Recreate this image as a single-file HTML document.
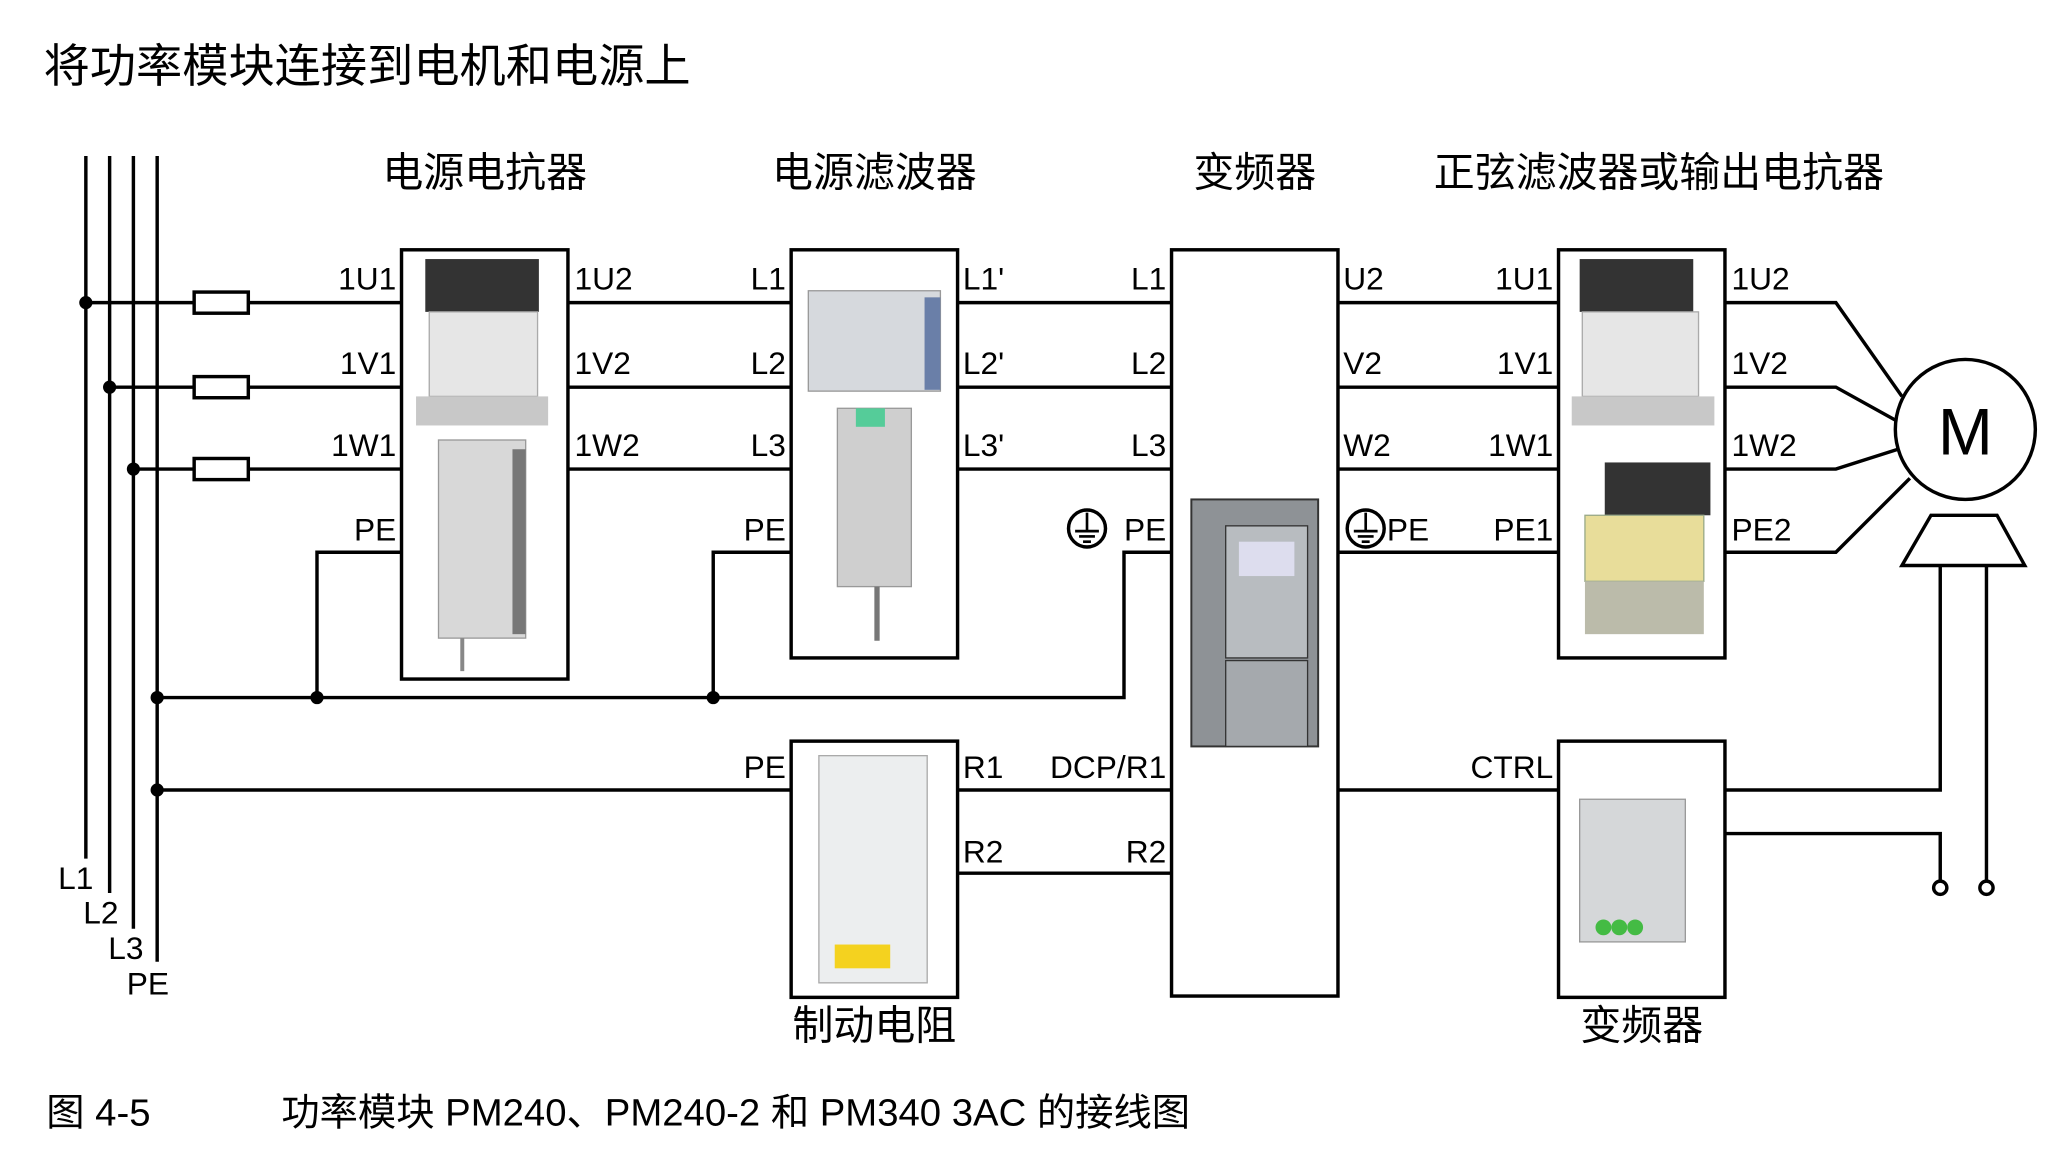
<!DOCTYPE html>
<html><head><meta charset="utf-8"><style>
html,body{margin:0;padding:0;background:#fff;}
svg{display:block;}
text{font-family:"Liberation Sans","Noto Sans CJK SC",sans-serif;fill:#000;}
.l{font-size:24px;}
.h{font-size:31px;}
</style></head><body>
<svg width="2071" height="1160" viewBox="0 0 1568 878" xmlns="http://www.w3.org/2000/svg">
<rect width="1568" height="878" fill="#fff"/>
<text x="33" y="62" style="font-size:35px">将功率模块连接到电机和电源上</text>
<g class="h" text-anchor="middle">
<text x="367" y="141">电源电抗器</text>
<text x="662" y="141">电源滤波器</text>
<text x="950" y="141">变频器</text>
<text x="1256" y="141">正弦滤波器或输出电抗器</text>
<text x="662" y="787">制动电阻</text>
<text x="1243" y="787">变频器</text>
</g>
<g stroke="#000" stroke-width="2.6" fill="none">
<line x1="65" y1="118" x2="65" y2="650"/>
<line x1="83" y1="118" x2="83" y2="676"/>
<line x1="101" y1="118" x2="101" y2="703"/>
<line x1="119" y1="118" x2="119" y2="728"/>
<line x1="65" y1="229" x2="304" y2="229"/>
<line x1="83" y1="293" x2="304" y2="293"/>
<line x1="101" y1="355" x2="304" y2="355"/>
<rect x="147" y="221" width="41" height="16" fill="#fff"/>
<rect x="147" y="285" width="41" height="16" fill="#fff"/>
<rect x="147" y="347" width="41" height="16" fill="#fff"/>
<rect x="304" y="189" width="126" height="325"/>
<rect x="599" y="189" width="126" height="309"/>
<rect x="887" y="189" width="126" height="565"/>
<rect x="1180" y="189" width="126" height="309"/>
<rect x="599" y="561" width="126" height="194"/>
<rect x="1180" y="561" width="126" height="194"/>
<line x1="430" y1="229" x2="599" y2="229"/>
<line x1="430" y1="293" x2="599" y2="293"/>
<line x1="430" y1="355" x2="599" y2="355"/>
<line x1="725" y1="229" x2="887" y2="229"/>
<line x1="725" y1="293" x2="887" y2="293"/>
<line x1="725" y1="355" x2="887" y2="355"/>
<line x1="1013" y1="229" x2="1180" y2="229"/>
<line x1="1013" y1="293" x2="1180" y2="293"/>
<line x1="1013" y1="355" x2="1180" y2="355"/>
<line x1="1013" y1="418" x2="1180" y2="418"/>
<polyline points="304,418 240,418 240,528"/>
<polyline points="599,418 540,418 540,528"/>
<polyline points="119,528 851,528 851,418 887,418"/>
<line x1="119" y1="598" x2="599" y2="598"/>
<line x1="725" y1="598" x2="887" y2="598"/>
<line x1="725" y1="661" x2="887" y2="661"/>
<line x1="1013" y1="598" x2="1180" y2="598"/>
<polyline points="1306,229 1390,229 1440,300"/>
<polyline points="1306,293 1390,293 1435,318"/>
<polyline points="1306,355 1390,355 1437,340"/>
<polyline points="1306,418 1390,418 1446,362"/>
<circle cx="1488" cy="325" r="53" fill="#fff"/>
<polygon points="1462,390 1512,390 1533,428 1440,428"/>
<polyline points="1469,428 1469,598 1306,598"/>
<polyline points="1306,631 1469,631 1469,666"/>
<line x1="1504" y1="428" x2="1504" y2="666"/>
<circle cx="1469" cy="672" r="5" fill="#fff"/>
<circle cx="1504" cy="672" r="5" fill="#fff"/>
<circle cx="823" cy="400" r="14"/>
<circle cx="1034" cy="400" r="14"/>
</g>
<g stroke="#000" stroke-width="2">
<line x1="823" y1="388" x2="823" y2="402"/><line x1="814" y1="402" x2="832" y2="402"/><line x1="817" y1="406" x2="829" y2="406"/><line x1="820" y1="410" x2="826" y2="410"/>
<line x1="1034" y1="388" x2="1034" y2="402"/><line x1="1025" y1="402" x2="1043" y2="402"/><line x1="1028" y1="406" x2="1040" y2="406"/><line x1="1031" y1="410" x2="1037" y2="410"/>
</g>
<g fill="#000">
<circle cx="65" cy="229" r="5"/><circle cx="83" cy="293" r="5"/><circle cx="101" cy="355" r="5"/>
<circle cx="119" cy="528" r="5"/><circle cx="240" cy="528" r="5"/><circle cx="540" cy="528" r="5"/>
<circle cx="119" cy="598" r="5"/>
</g>
<g>
<rect x="322" y="196" width="86" height="40" fill="#333"/>
<rect x="325" y="236" width="82" height="64" fill="#e6e6e6" stroke="#aaa"/>
<rect x="315" y="300" width="100" height="22" fill="#c8c8c8"/>
<rect x="332" y="333" width="66" height="150" fill="#d8d8d8" stroke="#999"/>
<rect x="388" y="340" width="10" height="140" fill="#777"/>
<line x1="350" y1="483" x2="350" y2="508" stroke="#888" stroke-width="3"/>
<rect x="612" y="220" width="100" height="76" fill="#d6d9dd" stroke="#999"/>
<rect x="700" y="225" width="12" height="70" fill="#6a7fa8"/>
<rect x="634" y="309" width="56" height="135" fill="#cfcfcf" stroke="#999"/>
<rect x="648" y="309" width="22" height="14" fill="#5c9"/>
<line x1="664" y1="444" x2="664" y2="485" stroke="#777" stroke-width="4"/>
<rect x="902" y="378" width="96" height="187" fill="#8e9296" stroke="#333" stroke-width="1.5"/>
<rect x="928" y="398" width="62" height="100" fill="#b8bcc0" stroke="#333"/>
<rect x="938" y="410" width="42" height="26" fill="#dde"/>
<rect x="928" y="500" width="62" height="65" fill="#a5a9ad" stroke="#333"/>
<rect x="1196" y="196" width="86" height="40" fill="#333"/>
<rect x="1198" y="236" width="88" height="64" fill="#e6e6e6" stroke="#aaa"/>
<rect x="1190" y="300" width="108" height="22" fill="#c8c8c8"/>
<rect x="1215" y="350" width="80" height="40" fill="#333"/>
<rect x="1200" y="390" width="90" height="50" fill="#e8dd9a" stroke="#9a8"/>
<rect x="1200" y="440" width="90" height="40" fill="#bba" />
<rect x="620" y="572" width="82" height="172" fill="#eceeef" stroke="#aaa"/>
<rect x="632" y="715" width="42" height="18" fill="#f4d21f"/>
<rect x="1196" y="605" width="80" height="108" fill="#d5d7d9" stroke="#999"/>
<circle cx="1214" cy="702" r="6" fill="#4b4"/><circle cx="1226" cy="702" r="6" fill="#4b4"/><circle cx="1238" cy="702" r="6" fill="#4b4"/>
</g>
<g class="l" text-anchor="end">
<text x="300" y="219">1U1</text><text x="300" y="283">1V1</text><text x="300" y="345">1W1</text><text x="300" y="409">PE</text>
<text x="595" y="219">L1</text><text x="595" y="283">L2</text><text x="595" y="345">L3</text><text x="595" y="409">PE</text>
<text x="883" y="219">L1</text><text x="883" y="283">L2</text><text x="883" y="345">L3</text><text x="883" y="409">PE</text>
<text x="1176" y="219">1U1</text><text x="1176" y="283">1V1</text><text x="1176" y="345">1W1</text><text x="1176" y="409">PE1</text>
<text x="595" y="589">PE</text>
<text x="883" y="589">DCP/R1</text><text x="883" y="653">R2</text>
<text x="1176" y="589">CTRL</text>
</g>
<g class="l">
<text x="435" y="219">1U2</text><text x="435" y="283">1V2</text><text x="435" y="345">1W2</text>
<text x="729" y="219">L1'</text><text x="729" y="283">L2'</text><text x="729" y="345">L3'</text>
<text x="1017" y="219">U2</text><text x="1017" y="283">V2</text><text x="1017" y="345">W2</text><text x="1050" y="409">PE</text>
<text x="1311" y="219">1U2</text><text x="1311" y="283">1V2</text><text x="1311" y="345">1W2</text><text x="1311" y="409">PE2</text>
<text x="729" y="589">R1</text><text x="729" y="653">R2</text>
<text x="44" y="673">L1</text><text x="63" y="699">L2</text><text x="82" y="726">L3</text><text x="96" y="753">PE</text>
</g>
<text x="1488" y="344" text-anchor="middle" style="font-size:50px">M</text>
<text x="35" y="852" style="font-size:29px">图 4-5</text>
<text x="213" y="852" style="font-size:29px">功率模块 PM240、PM240-2 和 PM340 3AC 的接线图</text>
</svg>
</body></html>
